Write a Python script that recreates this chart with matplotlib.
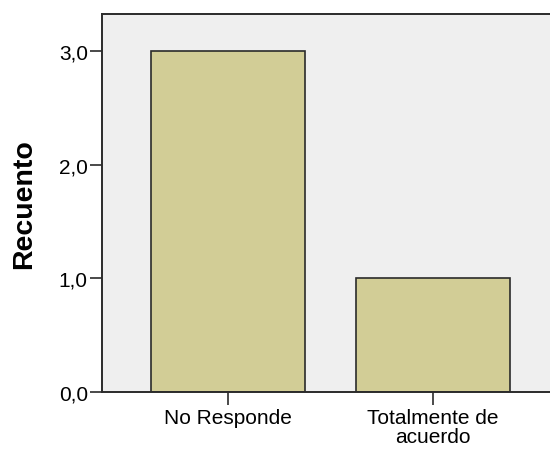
import matplotlib
matplotlib.use("Agg")
import matplotlib.pyplot as plt

categories = ["No Responde", "Totalmente de\nacuerdo"]
counts = [3.0, 1.0]
yticks = [0.0, 1.0, 2.0, 3.0]
ytick_labels = ["0,0", "1,0", "2,0", "3,0"]

plt.rcParams["font.family"] = ["Liberation Sans", "DejaVu Sans"]

fig = plt.figure(figsize=(5.5, 4.52), dpi=100)
ax = fig.add_axes([0.185, 0.131, 0.817, 0.836])
ax.set_facecolor("#efefef")

x = list(range(len(categories)))
ax.bar(x, counts, width=0.75, color="#d2cd96", edgecolor="#2b2b2b", linewidth=1.2)

ax.set_xlim(-0.614, 1.575)
ax.set_ylim(0, 3.33)
ax.set_xticks(x)
ax.set_xticklabels(categories, fontsize=15, linespacing=1.0)
ax.set_yticks(yticks)
ax.set_yticklabels(ytick_labels, fontsize=15)
ax.tick_params(axis="y", direction="out", length=9, width=1.2, color="#2b2b2b", pad=1)
ax.tick_params(axis="x", direction="out", length=9, width=1.2, color="#2b2b2b", pad=3)

for side in ["left", "top", "bottom", "right"]:
    ax.spines[side].set_color("#2b2b2b")
    ax.spines[side].set_linewidth(1.4)

ax.set_ylabel("Recuento", fontsize=20.5, fontweight="bold")
ax.yaxis.set_label_coords(-0.143, 0.5)

fig.savefig("out.png", dpi=100)
